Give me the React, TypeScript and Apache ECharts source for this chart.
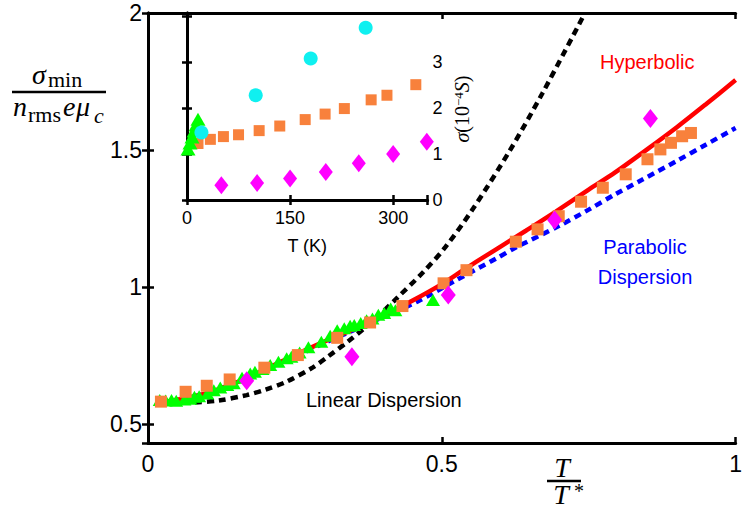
import React, { useEffect, useRef } from 'react';
import * as echarts from 'echarts';

// ---------- main panel data (x = T/T*, y = sigma_min / (n_rms e mu_c)) ----------
const linearCurve: [number, number][] = [
  [0.08, 0.578], [0.12, 0.585], [0.168, 0.605], [0.2, 0.625], [0.236, 0.654],
  [0.28, 0.705], [0.306, 0.745], [0.34, 0.8], [0.368, 0.849], [0.4, 0.91],
  [0.424, 0.96], [0.469, 1.055], [0.506, 1.145], [0.553, 1.285], [0.615, 1.495],
  [0.671, 1.706], [0.74, 1.985],
];
const parabolicCurve: [number, number][] = [
  [0.02, 0.578], [0.05, 0.588], [0.1, 0.612], [0.154, 0.654], [0.2, 0.698],
  [0.256, 0.752], [0.3, 0.795], [0.35, 0.842], [0.4, 0.89], [0.458, 0.946],
  [0.525, 1.025], [0.593, 1.104], [0.626, 1.144], [0.699, 1.222], [0.75, 1.282],
  [0.795, 1.338], [0.84, 1.39], [0.9, 1.46], [0.95, 1.52], [1.0, 1.58],
];
const hyperbolicCurve: [number, number][] = [
  [0.02, 0.578], [0.05, 0.588], [0.1, 0.612], [0.154, 0.654], [0.2, 0.7],
  [0.256, 0.757], [0.3, 0.8], [0.35, 0.846], [0.391, 0.885], [0.452, 0.952],
  [0.5, 1.01], [0.537, 1.062], [0.559, 1.092], [0.6, 1.147], [0.643, 1.205],
  [0.694, 1.275], [0.75, 1.355], [0.795, 1.418], [0.85, 1.503], [0.9, 1.583],
  [0.95, 1.668], [1.0, 1.755],
];
const mainSquares: [number, number][] = [
  [0.022, 0.581], [0.064, 0.617], [0.1, 0.639], [0.139, 0.662], [0.198, 0.705],
  [0.255, 0.751], [0.322, 0.814], [0.378, 0.87], [0.433, 0.93], [0.503, 1.013],
  [0.542, 1.061], [0.626, 1.165], [0.663, 1.21], [0.699, 1.258], [0.737, 1.311],
  [0.774, 1.362], [0.813, 1.411], [0.85, 1.466], [0.872, 1.502], [0.89, 1.526],
  [0.909, 1.55], [0.924, 1.562],
];
const mainDiamonds: [number, number][] = [
  [0.168, 0.657], [0.347, 0.745], [0.511, 0.97], [0.692, 1.244], [0.855, 1.615],
];
const mainTriangles: [number, number][] = [
  [0.02, 0.587], [0.03, 0.585], [0.04, 0.587], [0.048, 0.584], [0.062, 0.589],
  [0.072, 0.592], [0.079, 0.599], [0.087, 0.601], [0.101, 0.611], [0.112, 0.623],
  [0.123, 0.633], [0.135, 0.642], [0.146, 0.648], [0.16, 0.668], [0.174, 0.684],
  [0.182, 0.69], [0.195, 0.7], [0.208, 0.715], [0.222, 0.727], [0.236, 0.739],
  [0.244, 0.745], [0.258, 0.76], [0.273, 0.78], [0.295, 0.8], [0.31, 0.822],
  [0.322, 0.842], [0.334, 0.849], [0.344, 0.858], [0.351, 0.861], [0.362, 0.868],
  [0.372, 0.878], [0.382, 0.885], [0.392, 0.898], [0.402, 0.905], [0.413, 0.921],
  [0.421, 0.915], [0.485, 0.952],
];

// ---------- inset data (x = T in K, y = sigma in 1e-4 S) ----------
const insetCircles: [number, number][] = [[21, 1.47], [100, 2.28], [180, 3.08], [260, 3.75]];
const insetSquares: [number, number][] = [
  [16, 1.23], [34, 1.32], [53, 1.38], [75, 1.42], [105, 1.51], [135, 1.61],
  [172, 1.75], [201, 1.87], [229, 1.99], [268, 2.18], [291, 2.28], [333, 2.51],
];
const insetDiamonds: [number, number][] = [
  [50, 0.32], [102, 0.37], [150, 0.47], [202, 0.61], [250, 0.8], [300, 1.0], [349, 1.27],
];
const insetTriangles: [number, number][] = [
  [1.5, 1.11], [4.4, 1.24], [7.3, 1.37], [10.2, 1.5], [13.1, 1.63], [16, 1.76],
];

const SANS = '"Liberation Sans", Arial, Helvetica, sans-serif';
const SERIF = '"Liberation Serif", "Times New Roman", serif';
const ORANGE = '#f8813c';
const GREEN = '#00ff00';
const MAGENTA = '#ff00ff';
const CYAN = '#0ff0f0';

const axisLine = { show: true, lineStyle: { color: '#000', width: 3 } };
const tick = (len: number) => ({ show: true, inside: true, length: len, lineStyle: { color: '#000', width: 2.5 } });

function txt(text: string, x: number, y: number, size: number, opts: any = {}) {
  return {
    type: 'text',
    x,
    y,
    z: 100,
    style: {
      text,
      fill: opts.fill || '#000',
      fontSize: size,
      fontFamily: opts.family || SERIF,
      fontStyle: opts.italic ? 'italic' : 'normal',
      align: opts.align || 'left',
      textAlign: opts.align || 'left',
      verticalAlign: 'middle',
      textVerticalAlign: 'middle',
      lineHeight: opts.lineHeight,
    },
  };
}

export default function App() {
  const ref = useRef<HTMLDivElement>(null);
  useEffect(() => {
    const chart = echarts.init(ref.current!, null, { renderer: 'svg' });
    const option: any = {
      animation: false,
      backgroundColor: '#fff',
      grid: [
        { left: 148, top: 13, width: 594, height: 430 },
        { left: 187, top: 13, width: 240.5, height: 187 },
      ],
      xAxis: [
        {
          gridIndex: 0, type: 'value', min: 0, max: 1, interval: 0.5, position: 'bottom',
          axisLine, axisTick: tick(6), splitLine: { show: false },
          axisLabel: { fontSize: 23, color: '#000', fontFamily: SANS, margin: 9 },
        },
        {
          gridIndex: 0, type: 'value', min: 0, max: 1, interval: 0.5, position: 'top',
          axisLine, axisTick: tick(6), splitLine: { show: false }, axisLabel: { show: false },
        },
        {
          gridIndex: 1, type: 'value', min: 0, max: 350, interval: 150, position: 'bottom',
          axisLine, axisTick: tick(5), splitLine: { show: false },
          axisLabel: {
            fontSize: 18, color: '#000', fontFamily: SANS, margin: 9,
            formatter: (v: number) => (v <= 300 ? String(v) : ''),
          },
          name: 'T (K)', nameLocation: 'middle', nameGap: 37,
          nameTextStyle: { fontSize: 18, color: '#000', fontFamily: SANS },
        },
        {
          gridIndex: 1, type: 'value', min: 0, max: 350, interval: 150, position: 'top',
          axisLine, axisTick: tick(5), splitLine: { show: false }, axisLabel: { show: false },
        },
      ],
      yAxis: [
        {
          gridIndex: 0, type: 'value', min: 0.43, max: 2, splitNumber: 3, minInterval: 0.5, maxInterval: 0.5,
          position: 'left', axisLine, axisTick: tick(6), splitLine: { show: false },
          axisLabel: {
            fontSize: 23, color: '#000', fontFamily: SANS, margin: 6,
            formatter: (v: number) => (Math.abs(v * 2 - Math.round(v * 2)) < 1e-6 ? String(v) : ''),
          },
        },
        {
          gridIndex: 0, type: 'value', min: 0.43, max: 2, splitNumber: 3, minInterval: 0.5, maxInterval: 0.5,
          position: 'right', axisLine, axisTick: tick(6), splitLine: { show: false }, axisLabel: { show: false },
        },
        {
          gridIndex: 1, type: 'value', min: 0, max: 4.07, interval: 1, position: 'left',
          axisLine, axisTick: tick(5), splitLine: { show: false }, axisLabel: { show: false },
        },
        {
          gridIndex: 1, type: 'value', min: 0, max: 4.07, interval: 1, position: 'right',
          axisLine, axisTick: tick(5), splitLine: { show: false },
          axisLabel: {
            fontSize: 18, color: '#000', fontFamily: SANS, margin: 5,
            formatter: (v: number) => (v <= 3 && Number.isInteger(v) ? String(v) : ''),
          },
        },
      ],
      series: [
        {
          type: 'line', xAxisIndex: 0, yAxisIndex: 0, data: linearCurve, symbol: 'none', smooth: 0.3,
          lineStyle: { color: '#000', width: 4.5, type: [7, 5] }, z: 2,
        },
        {
          type: 'line', xAxisIndex: 0, yAxisIndex: 0, data: parabolicCurve, symbol: 'none', smooth: 0.3,
          lineStyle: { color: '#0000ff', width: 4.5, type: [7, 5] }, z: 2,
        },
        {
          type: 'line', xAxisIndex: 0, yAxisIndex: 0, data: hyperbolicCurve, symbol: 'none', smooth: 0.3,
          lineStyle: { color: '#ff0000', width: 4.5 }, z: 2,
        },
        {
          type: 'scatter', xAxisIndex: 0, yAxisIndex: 0, data: mainTriangles, symbol: 'triangle',
          symbolSize: [14, 12], itemStyle: { color: GREEN, opacity: 1 }, z: 3, clip: false,
        },
        {
          type: 'scatter', xAxisIndex: 0, yAxisIndex: 0, data: mainSquares, symbol: 'rect',
          symbolSize: 12, itemStyle: { color: ORANGE, opacity: 1 }, z: 3, clip: false,
        },
        {
          type: 'scatter', xAxisIndex: 0, yAxisIndex: 0, data: mainDiamonds, symbol: 'diamond',
          symbolSize: [15, 19], itemStyle: { color: MAGENTA, opacity: 1 }, z: 3, clip: false,
        },
        {
          type: 'scatter', xAxisIndex: 2, yAxisIndex: 2, data: insetSquares, symbol: 'rect',
          symbolSize: 11, itemStyle: { color: ORANGE, opacity: 1 }, z: 4, clip: false,
        },
        {
          type: 'scatter', xAxisIndex: 2, yAxisIndex: 2, data: insetDiamonds, symbol: 'diamond',
          symbolSize: [14, 18], itemStyle: { color: MAGENTA, opacity: 1 }, z: 4, clip: false,
        },
        {
          type: 'scatter', xAxisIndex: 2, yAxisIndex: 2, data: insetTriangles, symbol: 'triangle',
          symbolSize: [15, 13], itemStyle: { color: GREEN, opacity: 1 }, z: 4, clip: false,
        },
        {
          type: 'scatter', xAxisIndex: 2, yAxisIndex: 2, data: insetCircles, symbol: 'circle',
          symbolSize: 14, itemStyle: { color: CYAN, opacity: 1 }, z: 4, clip: false,
        },
      ],
      graphic: [
        // y-axis label fraction
        txt('σ', 32, 74, 28, { italic: true }),
        txt('min', 48, 79, 22),
        { type: 'rect', z: 100, shape: { x: 12, y: 90.8, width: 94, height: 2.5 }, style: { fill: '#000' } },
        txt('n', 13, 106, 28, { italic: true }),
        txt('rms', 28, 114.5, 22),
        txt('e', 63, 106, 28, { italic: true }),
        txt('μ', 76, 106, 28, { italic: true }),
        txt('c', 94, 115, 22, { italic: true }),
        // x-axis label fraction
        txt('T', 562, 467, 28, { italic: true, align: 'center' }),
        { type: 'rect', z: 100, shape: { x: 547, y: 479.8, width: 34, height: 2.5 }, style: { fill: '#000' } },
        txt('T', 561, 494, 28, { italic: true, align: 'center' }),
        txt('*', 574, 491, 20),
        // inset y label
        {
          type: 'text', x: 462, y: 109, rotation: Math.PI / 2, z: 100,
          style: {
            text: '{i|σ}{a|(10}{b|−4}{i|S}{a|)}',
            align: 'center', textAlign: 'center', verticalAlign: 'middle', textVerticalAlign: 'middle',
            fill: '#000',
            rich: {
              i: { fontSize: 20, fontFamily: SERIF, fontStyle: 'italic', fill: '#000', verticalAlign: 'bottom' },
              a: { fontSize: 20, fontFamily: SERIF, fill: '#000', verticalAlign: 'bottom' },
              b: { fontSize: 13, fontFamily: SERIF, fill: '#000', verticalAlign: 'top' },
            },
          },
        },
        // curve annotations
        txt('Hyperbolic', 600, 62, 20, { family: SANS, fill: '#ff0000' }),
        txt('Parabolic\nDispersion', 645, 262, 20, { family: SANS, fill: '#0000ff', align: 'center', lineHeight: 30 }),
        txt('Linear Dispersion', 306, 400, 20, { family: SANS }),
      ],
    };
    chart.setOption(option);
    return () => chart.dispose();
  }, []);
  return (
    <div
      ref={ref}
      style={{ position: 'fixed', left: 0, top: 0, width: 745, height: 505, background: '#fff' }}
    />
  );
}
